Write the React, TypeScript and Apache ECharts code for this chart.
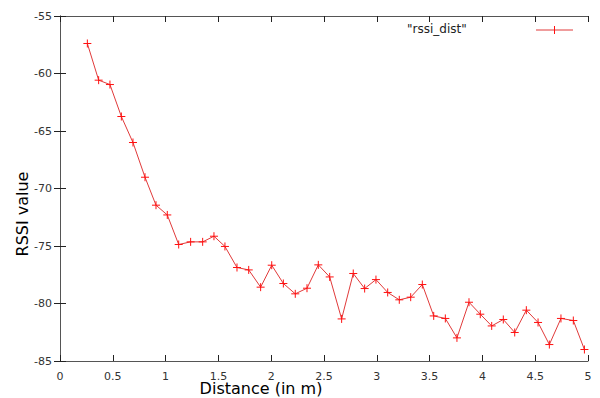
import React, { useEffect, useRef } from "react";
import * as echarts from "echarts";

const distances = [
  0.259, 0.366, 0.473, 0.581, 0.691, 0.805, 0.909, 1.016, 1.124, 1.237, 1.351,
  1.458, 1.562, 1.676, 1.787, 1.9, 2.005, 2.115, 2.228, 2.339, 2.446, 2.554,
  2.667, 2.777, 2.885, 2.992, 3.103, 3.213, 3.321, 3.431, 3.539, 3.649, 3.759,
  3.873, 3.98, 4.088, 4.198, 4.306, 4.416, 4.527, 4.634, 4.744, 4.861, 4.966,
];
const rssi = [
  -57.39, -60.58, -60.96, -63.74, -66.0, -69.02, -71.45, -72.3, -74.87, -74.64,
  -74.64, -74.15, -75.04, -76.87, -77.08, -78.58, -76.67, -78.26, -79.16,
  -78.67, -76.64, -77.69, -81.34, -77.39, -78.7, -77.92, -79.04, -79.68,
  -79.45, -78.35, -81.08, -81.3, -82.99, -79.89, -80.93, -81.95, -81.39,
  -82.52, -80.58, -81.65, -83.57, -81.3, -81.48, -84.0,
];
const seriesName = '"rssi_dist"';
const xTitle = "Distance (in m)";
const yTitle = "RSSI value";

const FONT = "DejaVu Sans";
const RED = "#e03a3a";
const AXIS = "#555";
const PLUS = "path://M0,5 L10,5 M5,0 L5,10";

export default function App() {
  const ref = useRef<HTMLDivElement>(null);
  useEffect(() => {
    if (!ref.current) return;
    const chart = echarts.init(ref.current, null, { renderer: "svg" });
    const data = distances.map((d, i) => [d, rssi[i]]);
    const axisCommon = {
      axisLine: { show: true, lineStyle: { color: AXIS, width: 1 } },
      axisTick: { show: true, inside: true, length: 6, lineStyle: { color: "#222" } },
      splitLine: { show: false },
    };
    chart.setOption({
      animation: false,
      backgroundColor: "#fff",
      grid: { left: 60, right: 12, top: 16, bottom: 37, containLabel: false },
      xAxis: [
        {
          type: "value",
          min: 0,
          max: 5,
          interval: 0.5,
          position: "bottom",
          ...axisCommon,
          axisLabel: { color: "#333", fontFamily: FONT, fontSize: 11, margin: 10 },
        },
        {
          type: "value",
          min: 0,
          max: 5,
          interval: 0.5,
          position: "top",
          ...axisCommon,
          axisLabel: { show: false },
        },
      ],
      yAxis: [
        {
          type: "value",
          min: -85,
          max: -55,
          interval: 5,
          position: "left",
          ...axisCommon,
          axisLabel: { color: "#333", fontFamily: FONT, fontSize: 11, margin: 8 },
        },
        {
          type: "value",
          min: -85,
          max: -55,
          interval: 5,
          position: "right",
          ...axisCommon,
          axisLabel: { show: false },
        },
      ],
      series: [
        {
          name: seriesName,
          type: "line",
          data,
          symbol: PLUS,
          symbolSize: 8,
          showAllSymbol: true,
          lineStyle: { color: RED, width: 1 },
          itemStyle: { color: "none", borderColor: "#ff1010", borderWidth: 1 },
        },
      ],
      graphic: [
        {
          type: "text",
          left: 407,
          top: 23,
          style: { text: seriesName, font: `12px "${FONT}"`, fill: "#222" },
        },
        {
          type: "line",
          shape: { x1: 536, y1: 30, x2: 573, y2: 30 },
          style: { stroke: RED, lineWidth: 1 },
        },
        {
          type: "line",
          shape: { x1: 554.5, y1: 26, x2: 554.5, y2: 34 },
          style: { stroke: "#ff1010", lineWidth: 1 },
        },
        {
          type: "text",
          x: 261,
          y: 388,
          style: {
            text: xTitle,
            font: `16px "${FONT}"`,
            fill: "#000",
            align: "center",
            verticalAlign: "middle",
          },
        },
        {
          type: "text",
          x: 22,
          y: 214,
          rotation: Math.PI / 2,
          style: {
            text: yTitle,
            font: `16px "${FONT}"`,
            fill: "#000",
            align: "center",
            verticalAlign: "middle",
          },
        },
      ],
    });
    return () => chart.dispose();
  }, []);
  return <div ref={ref} style={{ width: 600, height: 398, position: "absolute", left: 0, top: 0 }} />;
}
